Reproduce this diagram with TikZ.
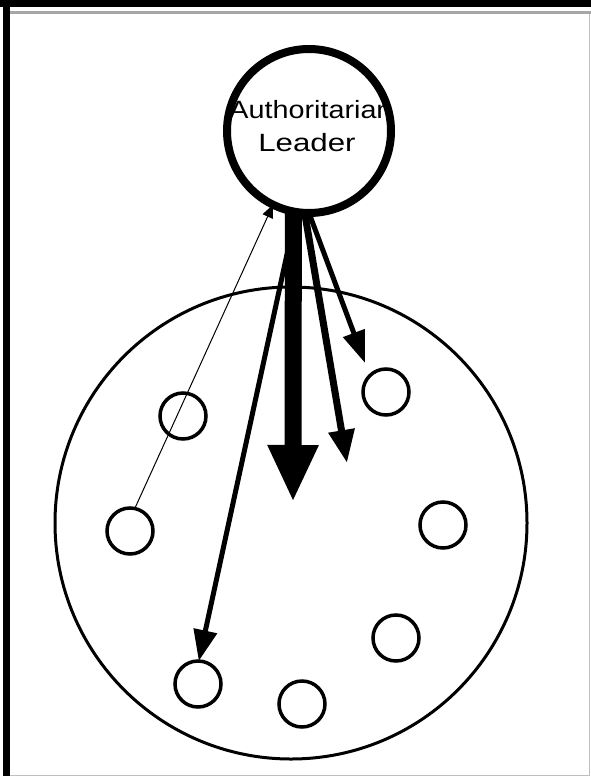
\documentclass[tikz,border=0pt]{standalone}
\usepackage{fontspec}
\setmainfont{Liberation Sans}
\usetikzlibrary{arrows.meta}
\begin{document}
\begin{tikzpicture}[x=1pt,y=-1pt,
  member/.style={circle,draw,line width=3.5pt,minimum size=46pt,inner sep=0pt,outer sep=0pt},
  leadtext/.style={transform shape,font=\fontsize{25}{30}\selectfont,inner sep=0pt}]
\useasboundingbox (0,0) rectangle (591,776);
\fill[white] (0,0) rectangle (591,776);
% frame
\fill[black] (0,0) rectangle (591,7);
\fill[black] (3,0) rectangle (10,776);
\draw[gray!70,line width=3pt] (10,13) -- (591,13);
\draw[gray!50,line width=1pt] (589,14) -- (589,776);
\draw[gray!50,line width=1pt] (10,775) -- (589,775);
% group
\node[circle,draw,line width=3pt,minimum size=472pt,inner sep=0pt,outer sep=0pt] (G) at (291,523) {};
% leader
\node[circle,draw,line width=8pt,minimum size=164pt,inner sep=0pt,outer sep=0pt,fill=white] (L) at (309,131) {};
\node[leadtext,xscale=1.15] (T1) at (311,110) {Authoritarian};
\node[leadtext,xscale=1.25] (T2) at (307,143) {Leader};
% members
\node[member] (c1) at (183,416) {};
\node[member] (c2) at (130,531) {};
\node[member] (c3) at (386,392) {};
\node[member] (c4) at (443,525) {};
\node[member] (c5) at (396,638) {};
\node[member] (c6) at (198,684) {};
\node[member] (c7) at (302,704) {};
% arrow tips
\coordinate (tBig) at (293,502);
\coordinate (tMid) at (347,463);
\coordinate (tSm) at (365,363);
% connectors
\draw[line width=1pt,-{Triangle[length=13pt,width=11pt]}] (c2.78) -- (L.244);
\draw[line width=5pt,-{Triangle[length=31pt,width=23pt]}] (L.261) -- (c6.88);
\draw[line width=17pt,-{Triangle[length=57pt,width=47pt]}] (L.259) -- (tBig);
\draw[line width=7pt,-{Triangle[length=33pt,width=25pt]}] (L.267) -- (tMid);
\draw[line width=5pt,-{Triangle[length=32pt,width=22pt]}] (L.270) -- (tSm);
\end{tikzpicture}
\end{document}
